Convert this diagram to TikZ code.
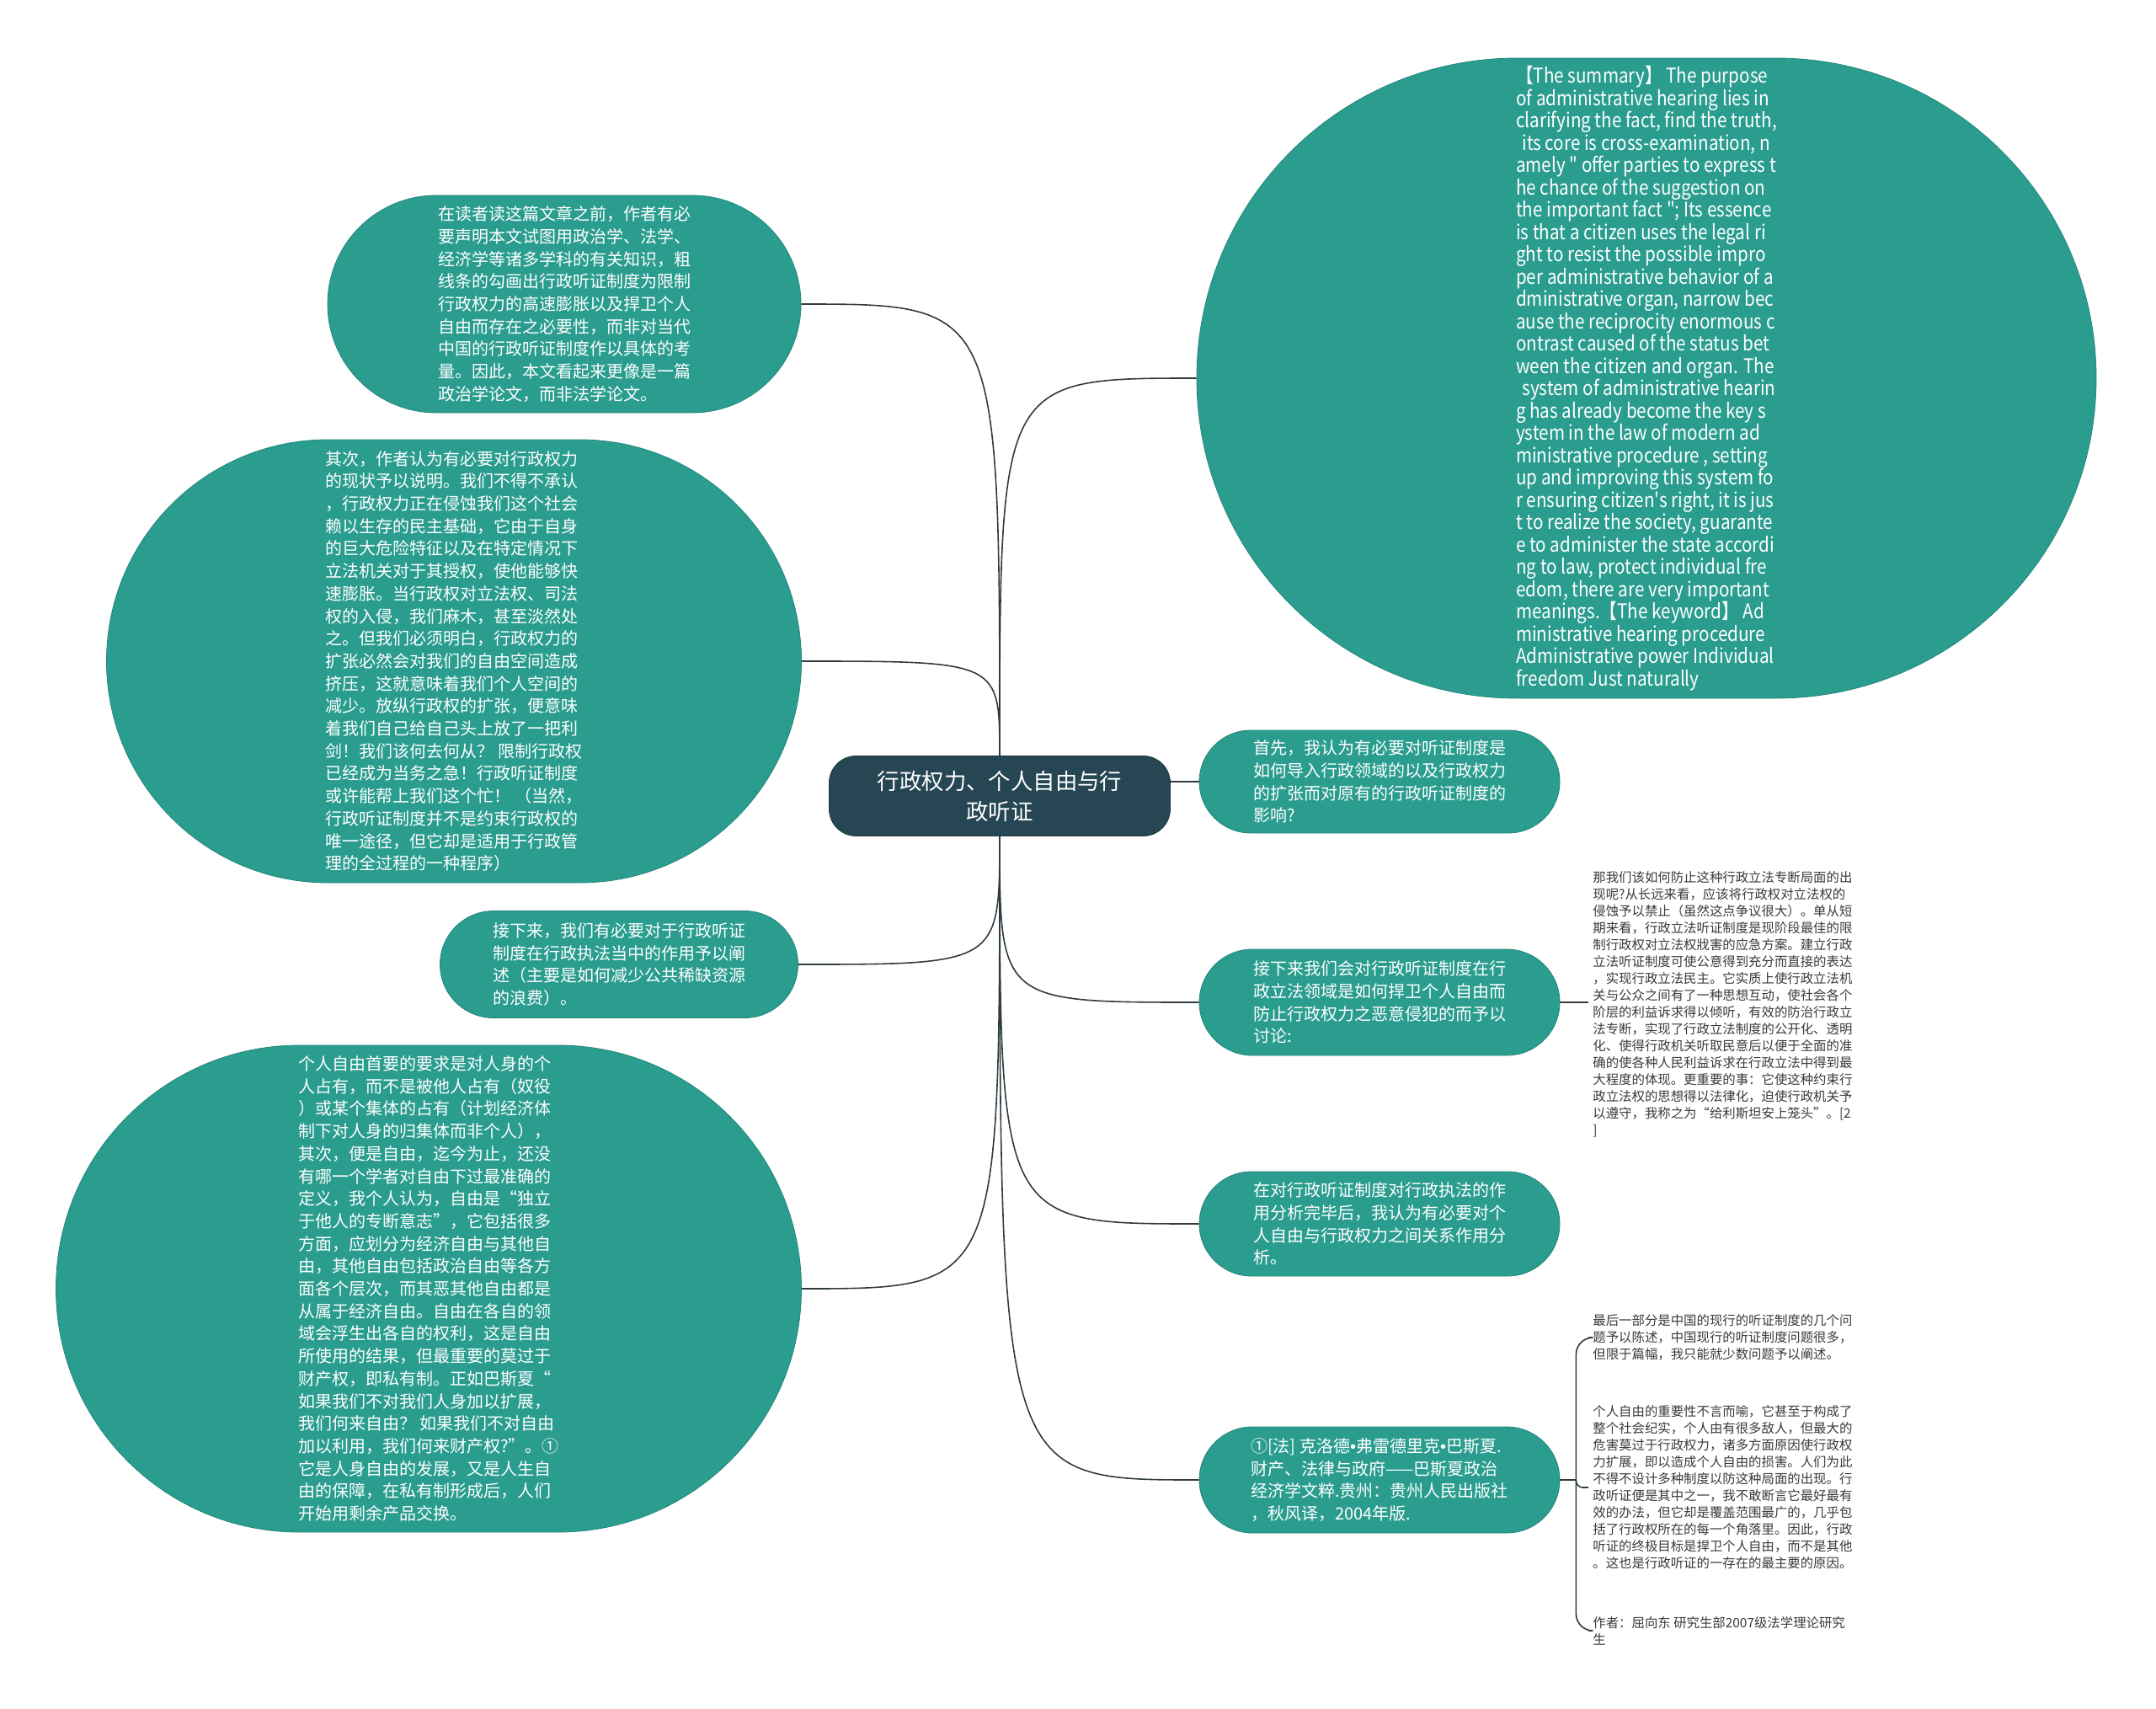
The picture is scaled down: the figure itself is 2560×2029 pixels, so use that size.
\documentclass[tikz,border=0pt]{standalone}
\usepackage{fontspec}
\setmainfont{Noto Sans CJK SC}
\newfontfamily\latinfont[Ligatures=TeXOff, FakeStretch=0.86]{Noto Sans CJK SC}
\newfontfamily\dotfont{Liberation Sans}
\usetikzlibrary{positioning}
\usetikzlibrary{shapes.misc}
\definecolor{hubcol}{HTML}{264653}
\definecolor{leafcol}{HTML}{2A9D8F}
\definecolor{linkcol}{HTML}{2F3B40}
\definecolor{notecol}{HTML}{3A3A3A}
\newcommand{\middot}{{\dotfont •}}
\tikzset{hub/.style = {fill=hubcol, draw=hubcol!80!black, rounded corners=16pt, text=white, align=center, font=\fontsize{13.2pt}{18pt}\selectfont, minimum width=202.5pt, minimum height=47.5pt}}
\tikzset{leaf/.style = {rounded rectangle, fill=leafcol, draw=leafcol!85!black, text=white, align=left, inner sep=2pt, font=\fontsize{10pt}{13.35pt}\selectfont}}
\tikzset{note/.style = {align=left, text=notecol, inner sep=2.5pt, anchor=west, font=\fontsize{7.7pt}{10pt}\selectfont}}
\tikzset{link/.style = {draw=linkcol, line width=0.8pt}}

\begin{document}
\begin{tikzpicture}[x=0.5pt, y=-0.5pt]
  \useasboundingbox (0,0) rectangle (2560,2029);
  \node [hub] (hub) at (1187,945) {行政权力、个人自由与行\\政听证};
  \node [leaf, minimum width=285pt, minimum height=129pt] (intro) at (670,361) {在读者读这篇文章之前，作者有必\\要声明本文试图用政治学、法学、\\经济学等诸多学科的有关知识，粗\\线条的勾画出行政听证制度为限制\\行政权力的高速膨胀以及捍卫个人\\自由而存在之必要性，而非对当代\\中国的行政听证制度作以具体的考\\量。因此，本文看起来更像是一篇\\政治学论文，而非法学论文。};
  \node [leaf, minimum width=416.5pt, minimum height=263pt] (status) at (539,785) {其次，作者认为有必要对行政权力\\的现状予以说明。我们不得不承认\\，行政权力正在侵蚀我们这个社会\\赖以生存的民主基础，它由于自身\\的巨大危险特征以及在特定情况下\\立法机关对于其授权，使他能够快\\速膨胀。当行政权对立法权、司法\\权的入侵，我们麻木，甚至淡然处\\之。但我们必须明白，行政权力的\\扩张必然会对我们的自由空间造成\\挤压，这就意味着我们个人空间的\\减少。放纵行政权的扩张，便意味\\着我们自己给自己头上放了一把利\\剑！我们该何去何从？ 限制行政权\\已经成为当务之急！行政听证制度\\或许能帮上我们这个忙！ （当然，\\行政听证制度并不是约束行政权的\\唯一途径，但它却是适用于行政管\\理的全过程的一种程序）};
  \node [leaf, minimum width=216.5pt, minimum height=63.5pt] (enforce) at (735,1145) {接下来，我们有必要对于行政听证\\制度在行政执法当中的作用予以阐\\述（主要是如何减少公共稀缺资源\\的浪费）。};
  \node [leaf, minimum width=446.5pt, minimum height=289pt] (freedom) at (509,1530) {个人自由首要的要求是对人身的个\\人占有，而不是被他人占有（奴役\\）或某个集体的占有（计划经济体\\制下对人身的归集体而非个人），\\其次，便是自由，迄今为止，还没\\有哪一个学者对自由下过最准确的\\定义，我个人认为，自由是“独立\\于他人的专断意志”，它包括很多\\方面，应划分为经济自由与其他自\\由，其他自由包括政治自由等各方\\面各个层次，而其恶其他自由都是\\从属于经济自由。自由在各自的领\\域会浮生出各自的权利，这是自由\\所使用的结果，但最重要的莫过于\\财产权，即私有制。正如巴斯夏“\\如果我们不对我们人身加以扩展，\\我们何来自由？ 如果我们不对自由\\加以利用，我们何来财产权?”。①\\它是人身自由的发展，又是人生自\\由的保障，在私有制形成后，人们\\开始用剩余产品交换。};
  \node [leaf, minimum width=538pt, minimum height=380pt, font=\latinfont\fontsize{12pt}{13.25pt}\selectfont] (summary) at (1955,449) {【The summary】 The purpose\\of administrative hearing lies in\\clarifying the fact, find the truth,\\\hspace*{.3em}its core is cross-examination, n\\amely " offer parties to express t\\he chance of the suggestion on\\the important fact "; Its essence\\is that a citizen uses the legal ri\\ght to resist the possible impro\\per administrative behavior of a\\dministrative organ, narrow bec\\ause the reciprocity enormous c\\ontrast caused of the status bet\\ween the citizen and organ. The\\\hspace*{.3em}system of administrative hearin\\g has already become the key s\\ystem in the law of modern ad\\ministrative procedure , setting\\up and improving this system fo\\r ensuring citizen's right, it is jus\\t to realize the society, guarante\\e to administer the state accordi\\ng to law, protect individual fre\\edom, there are very important\\meanings.【The keyword】 Ad\\ministrative hearing procedure\\Administrative power Individual\\freedom Just naturally};
  \node [leaf, minimum width=218pt, minimum height=61pt] (first) at (1638,928) {首先，我认为有必要对听证制度是\\如何导入行政领域的以及行政权力\\的扩张而对原有的行政听证制度的\\影响?};
  \node [leaf, minimum width=218pt, minimum height=63pt] (legis) at (1638,1190) {接下来我们会对行政听证制度在行\\政立法领域是如何捍卫个人自由而\\防止行政权力之恶意侵犯的而予以\\讨论:};
  \node [leaf, minimum width=218pt, minimum height=62pt] (relation) at (1638,1453) {在对行政听证制度对行政执法的作\\用分析完毕后，我认为有必要对个\\人自由与行政权力之间关系作用分\\析。};
  \node [leaf, minimum width=218pt, minimum height=63pt] (cite) at (1638,1757) {①[法] 克洛德\middot 弗雷德里克\middot 巴斯夏.\\财产、法律与政府——巴斯夏政治\\经济学文粹.贵州：贵州人民出版社\\，秋风译，2004年版.};
  \node [note] (legisnote) at (1886,1192) {那我们该如何防止这种行政立法专断局面的出\\现呢?从长远来看，应该将行政权对立法权的\\侵蚀予以禁止（虽然这点争议很大）。单从短\\期来看，行政立法听证制度是现阶段最佳的限\\制行政权对立法权戕害的应急方案。建立行政\\立法听证制度可使公意得到充分而直接的表达\\，实现行政立法民主。它实质上使行政立法机\\关与公众之间有了一种思想互动，使社会各个\\阶层的利益诉求得以倾听，有效的防治行政立\\法专断，实现了行政立法制度的公开化、透明\\化、使得行政机关听取民意后以便于全面的准\\确的使各种人民利益诉求在行政立法中得到最\\大程度的体现。更重要的事：它使这种约束行\\政立法权的思想得以法律化，迫使行政机关予\\以遵守，我称之为“给利斯坦安上笼头”。[2\\]};
  \node [note] (lastpart) at (1886,1588) {最后一部分是中国的现行的听证制度的几个问\\题予以陈述，中国现行的听证制度问题很多，\\但限于篇幅，我只能就少数问题予以阐述。};
  \node [note] (importance) at (1886,1766) {个人自由的重要性不言而喻，它甚至于构成了\\整个社会纪实，个人由有很多敌人，但最大的\\危害莫过于行政权力，诸多方面原因使行政权\\力扩展，即以造成个人自由的损害。人们为此\\不得不设计多种制度以防这种局面的出现。行\\政听证便是其中之一，我不敢断言它最好最有\\效的办法，但它却是覆盖范围最广的，几乎包\\括了行政权所在的每一个角落里。因此，行政\\听证的终极目标是捍卫个人自由，而不是其他\\。这也是行政听证的一存在的最主要的原因。};
  \node [note] (author) at (1886,1936) {作者：屈向东 研究生部2007级法学理论研究\\生};
  \coordinate [right=9.5pt of cite.east] (jct);
  \draw [link] (hub.north) .. controls (hub.north |- intro.east) .. (intro.east);
  \draw [link] (hub.north) .. controls (hub.north |- status.east) .. (status.east);
  \draw [link] (hub.south) .. controls (hub.south |- enforce.east) .. (enforce.east);
  \draw [link] (hub.south) .. controls (hub.south |- freedom.east) .. (freedom.east);
  \draw [link] (hub.north) .. controls (hub.north |- summary.west) .. (summary.west);
  \draw [link] (hub.east |- first.west) -- (first.west);
  \draw [link] (hub.south) .. controls (hub.south |- legis.west) .. (legis.west);
  \draw [link] (hub.south) .. controls (hub.south |- relation.west) .. (relation.west);
  \draw [link] (hub.south) .. controls (hub.south |- cite.west) .. (cite.west);
  \draw [link] (legis.east) -- (legis.east -| legisnote.west);
  \draw [link] (cite.east) -- (jct);
  \draw [link, rounded corners=10pt] (jct) |- (lastpart.west);
  \draw [link, rounded corners=4pt] (jct) |- (importance.west);
  \draw [link, rounded corners=10pt] (jct) |- (author.west);
\end{tikzpicture}
\end{document}
